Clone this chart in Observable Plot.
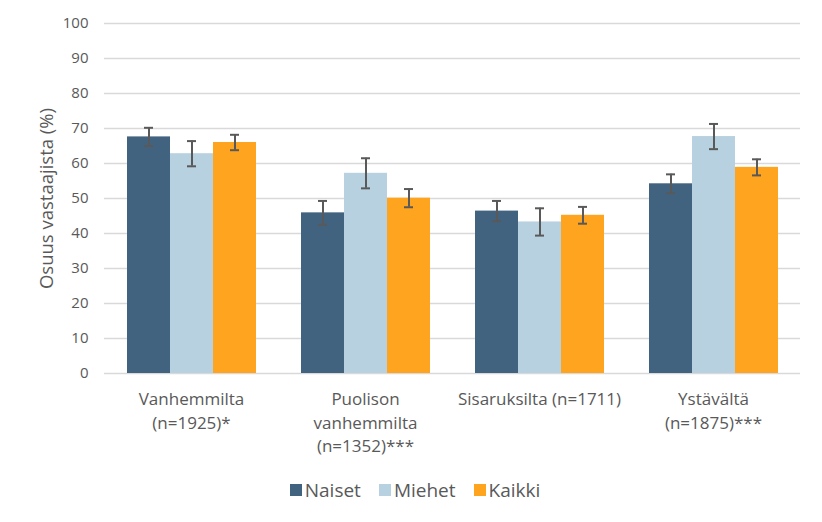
<!DOCTYPE html>
<html>
<head>
<meta charset="utf-8">
<script src="https://cdn.jsdelivr.net/npm/d3@7"></script>
<script src="https://cdn.jsdelivr.net/npm/@observablehq/plot@0.6"></script>
<style>
  body { margin: 0; background: white; font-family: "Open Sans", sans-serif; color: #595959; }
  #legend { display: flex; justify-content: center; align-items: center; height: 40px; margin-top: 10px; font-size: 19px; padding-left: 8px; }
  #legend .item { display: flex; align-items: center; margin: 0 9px; }
  #legend .sw { width: 12px; height: 12px; margin-right: 3px; }
</style>
</head>
<body>
<div id="chart"></div>
<div id="legend"></div>
<script>
const categories = ["Vanhemmilta\n(n=1925)*", "Puolison\nvanhemmilta\n(n=1352)***", "Sisaruksilta (n=1711)", "Ystävältä\n(n=1875)***"];
const series = ["Naiset", "Miehet", "Kaikki"];
const colors = ["#42637f", "#b8d1e0", "#ffa41e"];
const naiset = [67.6, 45.9, 46.4, 54.2];
const naisetErr = [2.6, 3.4, 2.9, 2.7];
const miehet = [62.8, 57.2, 43.3, 67.7];
const miehetErr = [3.6, 4.3, 3.9, 3.6];
const kaikki = [66.0, 50.1, 45.2, 58.9];
const kaikkiErr = [2.2, 2.6, 2.4, 2.3];
const yTicks = [0, 10, 20, 30, 40, 50, 60, 70, 80, 90, 100];
const yLabel = "Osuus vastaajista (%)";

const vals = [naiset, miehet, kaikki];
const errs = [naisetErr, miehetErr, kaikkiErr];
const data = categories.flatMap((c, i) => series.map((s, j) => ({category: c, series: s, value: vals[j][i], err: errs[j][i]})));

const chart = Plot.plot({
  width: 822,
  height: 460,
  marginTop: 23,
  marginBottom: 87,
  marginLeft: 103,
  marginRight: 22,
  style: {fontFamily: "Open Sans, sans-serif", fontSize: "15px", color: "#595959", background: "white"},
  fx: {domain: categories, padding: 0, label: null},
  x: {domain: series, paddingInner: 0, paddingOuter: 0.51, axis: null},
  y: {domain: [0, 100]},
  color: {domain: series, range: colors},
  marks: [
    Plot.ruleY(yTicks, {stroke: "#d9d9d9", strokeWidth: 1.5}),
    Plot.barY(data, {fx: "category", x: "series", y: "value", fill: "series"}),
    Plot.ruleX(data, {fx: "category", x: "series", y1: d => d.value - d.err, y2: d => d.value + d.err, stroke: "#595959", strokeWidth: 2}),
    Plot.tickY(data, {fx: "category", x: "series", y: d => d.value - d.err, stroke: "#595959", strokeWidth: 2, insetLeft: 17, insetRight: 17}),
    Plot.tickY(data, {fx: "category", x: "series", y: d => d.value + d.err, stroke: "#595959", strokeWidth: 2, insetLeft: 17, insetRight: 17}),
    Plot.axisY({ticks: yTicks, tickSize: 0, tickPadding: 16, label: null}),
    Plot.axisY({ticks: [], tickSize: 0, label: yLabel, labelAnchor: "center", labelOffset: 65, labelArrow: false, fontSize: 18.5}),
    Plot.axisFx({anchor: "bottom", tickSize: 0, tickPadding: 15, fontSize: 17, lineHeight: 1.38, label: null})
  ]
});
document.getElementById("chart").appendChild(chart);

const legend = document.getElementById("legend");
series.forEach((s, i) => {
  const item = document.createElement("div");
  item.className = "item";
  item.innerHTML = `<span class="sw" style="background:${colors[i]}"></span><span>${s}</span>`;
  legend.appendChild(item);
});
</script>
</body>
</html>
